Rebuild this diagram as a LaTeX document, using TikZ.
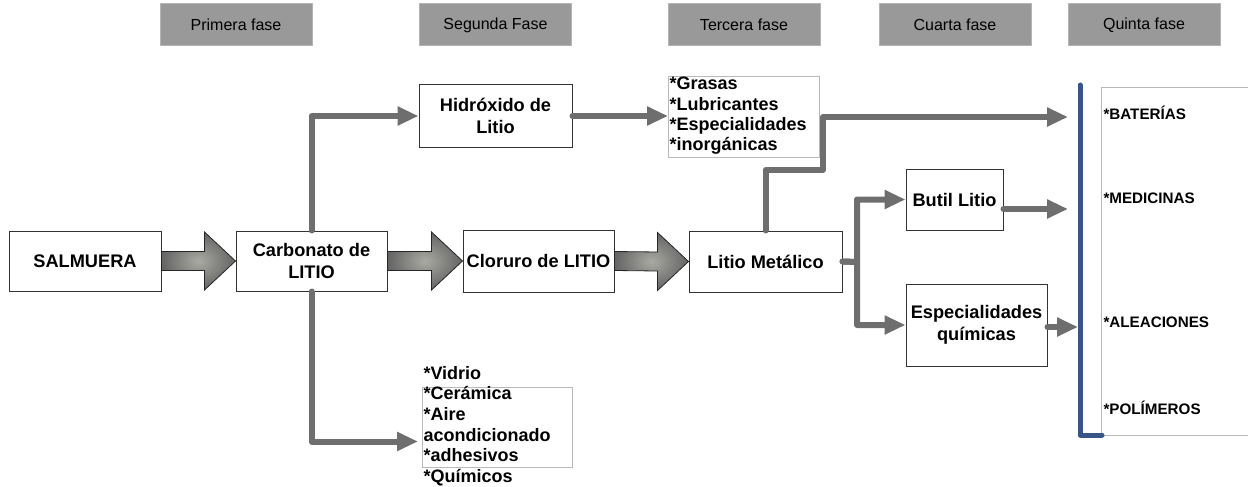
\documentclass[tikz,border=0pt]{standalone}
\usepackage{fontspec}
\setmainfont{Liberation Sans}
\usetikzlibrary{arrows.meta,calc}

\definecolor{fasegris}{RGB}{153,153,153}
\definecolor{faseborde}{RGB}{180,180,180}
\definecolor{flecha}{RGB}{110,110,110}
\definecolor{bordegris}{RGB}{185,185,185}
\definecolor{azul}{RGB}{55,85,135}
\definecolor{flechaosc}{RGB}{100,100,100}
\definecolor{flechaclr}{RGB}{168,170,162}

\tikzset{every picture/.style={line width=1pt}}
\tikzset{
  fase/.style={fill=fasegris, draw=faseborde, line width=1pt, minimum width=152pt, minimum height=42pt, inner sep=0pt, font=\fontsize{16}{18}\selectfont},
  proceso/.style={draw=black!80, line width=1pt, fill=white, align=center, inner sep=0pt, font=\bfseries\fontsize{18.2}{22}\selectfont},
  lista/.style={draw=bordegris, line width=1pt, fill=white, inner sep=0pt},
  listatexto/.style={anchor=west, align=left, inner sep=0pt, font=\bfseries\fontsize{18}{20.3}\selectfont},
  conector/.style={draw=flecha, line width=6pt, line cap=round, line join=round, -{Triangle[length=21pt,width=18pt]}},
  uso/.style={anchor=west, inner sep=0pt, font=\bfseries\fontsize{15.2}{17}\selectfont},
}

% flecha gruesa sombreada entre dos cajas
\newcommand{\flechagrande}[2]{%
  \shade[inner color=flechaclr, outer color=flechaosc, draw=black!85, line width=0.8pt]
    ($(#1.east)+(0,-9.5)$) -- ($(#2.west)+(-31,-9.5)$) -- ($(#2.west)+(-31,-29)$) -- (#2.west)
    -- ($(#2.west)+(-31,29)$) -- ($(#2.west)+(-31,9.5)$) -- ($(#1.east)+(0,9.5)$) -- cycle;}

\begin{document}
\begin{tikzpicture}[x=1pt,y=1pt,yscale=-1,xscale=1]
  \useasboundingbox (0,0) rectangle (1248,487);

  % Fases
  \node[fase] (fase1) at (236,25) {Primera fase};
  \node[fase] (fase2) at (495.5,25) {Segunda Fase};
  \node[fase] (fase3) at (744,25) {Tercera fase};
  \node[fase] (fase4) at (955,25) {Cuarta fase};
  \node[fase] (fase5) at (1144,25) {Quinta fase};

  % Cajas de proceso
  \node[proceso, minimum width=152pt, minimum height=60pt] (salmuera) at (85,261) {SALMUERA};
  \node[proceso, minimum width=151pt, minimum height=60pt] (carbonato) at (311.5,261) {Carbonato de\\LITIO};
  \node[proceso, minimum width=151pt, minimum height=62pt] (cloruro) at (538.5,261) {Cloruro de LITIO};
  \node[proceso, minimum width=153pt, minimum height=61pt] (metalico) at (765.5,261.5) {Litio Metálico};
  \node[proceso, minimum width=153pt, minimum height=62pt] (hidroxido) at (495.5,116) {Hidróxido de\\Litio};
  \node[proceso, minimum width=97pt, minimum height=61pt] (butil) at (954.5,199.5) {Butil Litio};
  \node[proceso, minimum width=141pt, minimum height=82pt] (especial) at (976.5,325) {Especialidades\\químicas};

  % Listas
  \node[lista, anchor=north west, minimum width=151pt, minimum height=81pt] (grasasbox) at (668,76) {};
  \node[listatexto] (grasas) at (669,116) {*Grasas\\*Lubricantes\\*Especialidades\\*inorgánicas};
  \node[lista, anchor=north west, minimum width=150pt, minimum height=80pt] (vidriobox) at (422,387) {};
  \node[listatexto, font=\bfseries\fontsize{18}{20.7}\selectfont] (vidrio) at (423,426) {*Vidrio\\*Cerámica\\*Aire\\acondicionado\\*adhesivos\\*Químicos};

  % Usos finales
  \node[lista, anchor=north west, minimum width=152pt, minimum height=348pt] (usos) at (1101,87) {};
  \draw[azul, line width=5pt, line cap=round, line join=round] (1080,85) -- (1080,435) -- (1102,435);
  \node[uso] (baterias) at (1103,113) {*BATERÍAS};
  \node[uso] (medicinas) at (1103,198) {*MEDICINAS};
  \node[uso] (aleaciones) at (1103,322) {*ALEACIONES};
  \node[uso] (polimeros) at (1103,408) {*POLÍMEROS};

  % Flechas gruesas
  \flechagrande{salmuera}{carbonato}
  \flechagrande{carbonato}{cloruro}
  \flechagrande{cloruro}{metalico}

  % Conectores
  \coordinate (codo) at (823,170);
  \coordinate (rama) at (857,262);
  \coordinate (bat) at (1068,117);
  \coordinate (med) at (1068,209);
  \coordinate (ale) at (1078,327);
  \draw[conector] (carbonato.north) |- (hidroxido.west);
  \draw[conector] (carbonato.south) |- ([xshift=-4pt,yshift=14pt]vidriobox.west);
  \draw[conector] (hidroxido.east) -- (grasasbox.west |- hidroxido.east);
  \draw[conector] (metalico.north) |- (codo) |- (bat);
  \draw[conector] (metalico.east) -- (rama) |- (butil.west);
  \draw[conector] (metalico.east) -- (rama) |- (especial.west);
  \draw[conector] (butil.east |- med) -- (med);
  \draw[conector] (especial.east |- ale) -- (ale);

\end{tikzpicture}
\end{document}
